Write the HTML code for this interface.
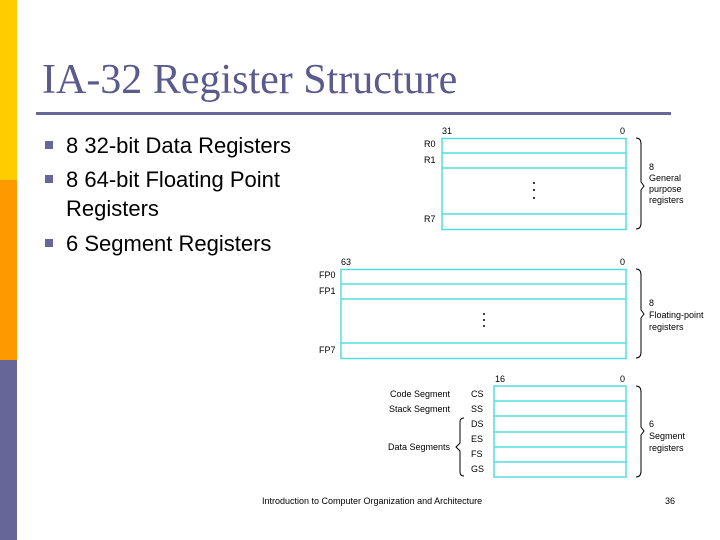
<!DOCTYPE html>
<html><head><style>
body{margin:0;width:720px;height:540px;position:relative;background:#fff;overflow:hidden;font-family:"Liberation Sans",sans-serif}
.a{position:absolute}
.s{font-size:9px;color:#000;position:absolute;white-space:nowrap}
.b{position:absolute;font-size:22px;color:#000;white-space:nowrap;line-height:29px}
.sq{position:absolute;width:8px;height:8px;background:#666699}
</style></head><body>
<div class="a" style="left:0;top:0;width:17px;height:180px;background:#ffcc00"></div>
<div class="a" style="left:0;top:180px;width:17px;height:180px;background:#ff9900"></div>
<div class="a" style="left:0;top:360px;width:17px;height:180px;background:#666699"></div>
<div class="a" style="left:42px;top:56px;font-family:'Liberation Serif',serif;font-size:42px;color:#5a5a8c;white-space:nowrap">IA-32 Register Structure</div>
<div class="a" style="left:36px;top:112px;width:635px;height:3px;background:#666699"></div>
<div class="sq" style="left:45px;top:141px"></div>
<div class="b" style="left:66px;top:131px">8 32-bit Data Registers</div>
<div class="sq" style="left:45px;top:175px"></div>
<div class="b" style="left:66px;top:165px">8 64-bit Floating Point</div>
<div class="b" style="left:66px;top:194px">Registers</div>
<div class="sq" style="left:45px;top:239px"></div>
<div class="b" style="left:66px;top:229px">6 Segment Registers</div>

<svg class="a" style="left:0;top:0" width="720" height="540">
<g stroke="#55dddd" stroke-width="1.5" fill="none">
<rect x="442" y="138.5" width="184" height="91"/>
<line x1="442" y1="153" x2="626" y2="153"/><line x1="442" y1="168" x2="626" y2="168"/><line x1="442" y1="214" x2="626" y2="214"/>
<rect x="341" y="269.5" width="285" height="89"/>
<line x1="341" y1="284" x2="626" y2="284"/><line x1="341" y1="299" x2="626" y2="299"/><line x1="341" y1="343" x2="626" y2="343"/>
<rect x="494" y="386" width="132" height="91"/>
<line x1="494" y1="401" x2="626" y2="401"/><line x1="494" y1="416" x2="626" y2="416"/><line x1="494" y1="432" x2="626" y2="432"/><line x1="494" y1="447" x2="626" y2="447"/><line x1="494" y1="462" x2="626" y2="462"/>
</g>
<g stroke="#000" stroke-width="1" fill="none">
<path d="M636 138 Q641 138 641 144 V182 L644 186 L641 190 V223 Q641 229 636 229"/>
<path d="M636 269 Q641 269 641 275 V310 L644 314 L641 318 V352 Q641 358 636 358"/>
<path d="M636 386 Q641 386 641 392 V427 L644 431 L641 435 V471 Q641 477 636 477"/>
<path d="M464 418 Q460 418 460 422 V443 L456 447 L460 451 V472 Q460 476 464 476"/>
</g>
<g fill="#000"><circle cx="534" cy="183" r="1"/><circle cx="534" cy="190" r="1"/><circle cx="534" cy="198" r="1"/>
<circle cx="484" cy="314" r="1"/><circle cx="484" cy="320" r="1"/><circle cx="484" cy="326" r="1"/></g>
</svg>
<div class="s" style="left:442px;top:126px">31</div><div class="s" style="left:620px;top:126px">0</div>
<div class="s" style="left:424px;top:139px">R0</div><div class="s" style="left:424px;top:155px">R1</div><div class="s" style="left:424px;top:214px">R7</div>
<div class="s" style="left:649px;top:162px;line-height:11px">8<br>General<br>purpose<br>registers</div>
<div class="s" style="left:341px;top:257px">63</div><div class="s" style="left:620px;top:257px">0</div>
<div class="s" style="left:319px;top:270px">FP0</div><div class="s" style="left:319px;top:286px">FP1</div><div class="s" style="left:319px;top:345px">FP7</div>
<div class="s" style="left:649px;top:297px;line-height:12px">8<br>Floating-point<br>registers</div>
<div class="s" style="left:495px;top:374px">16</div><div class="s" style="left:620px;top:374px">0</div>
<div class="s" style="left:390px;top:389px">Code Segment</div><div class="s" style="left:389px;top:404px">Stack Segment</div><div class="s" style="left:388px;top:442px">Data Segments</div>
<div class="s" style="left:471px;top:389px">CS</div><div class="s" style="left:471px;top:404px">SS</div><div class="s" style="left:471px;top:419px">DS</div><div class="s" style="left:471px;top:434px">ES</div><div class="s" style="left:471px;top:449px">FS</div><div class="s" style="left:471px;top:464px">GS</div>
<div class="s" style="left:649px;top:418px;line-height:12px">6<br>Segment<br>registers</div>
<div class="s" style="left:262px;top:496px">Introduction to Computer Organization and Architecture</div>
<div class="s" style="left:665px;top:496px">36</div>
</body></html>
